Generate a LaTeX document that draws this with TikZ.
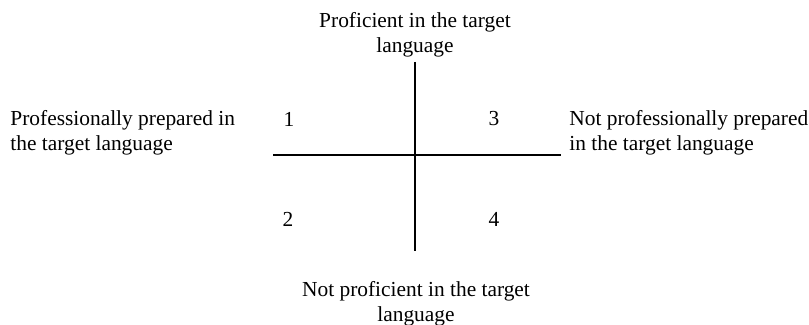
\documentclass[tikz,border=0pt]{standalone}
\usepackage{fontspec}
\setmainfont{Liberation Serif}
\usetikzlibrary{positioning}

\begin{document}
\begin{tikzpicture}[
    x=0.5pt, y=-0.5pt,
    axislabel/.style={inner sep=0pt, font=\fontsize{10.7}{12.5}\selectfont},
    quadnum/.style={inner sep=0pt, font=\fontsize{10.7}{12.5}\selectfont},
    axisline/.style={line width=0.8pt}
  ]
    \useasboundingbox (0,0) rectangle (809,325);

    % Axes
    \coordinate (vtop) at (415,62);
    \coordinate (vbot) at (415,251);
    \coordinate (hleft) at (273,155);
    \coordinate (hright) at (561,155);
    \draw[axisline] (vtop) -- (vbot);
    \draw[axisline] (hleft) -- (hright);

    % Labels
    \node[axislabel, align=center] (proficient) at (415,35) {Proficient in the target\\language};
    \node[axislabel, align=center] (notproficient) at (416,304) {Not proficient in the target\\language};
    \node[axislabel, align=left, anchor=west] (prepared) at (10,133) {Professionally prepared in\\the target language};
    \node[axislabel, align=left, anchor=west] (notprepared) at (569,133) {Not professionally prepared\\in the target language};

    % Quadrants
    \node[quadnum] (q1) at (289,119) {1};
    \node[quadnum] (q3) at (494,119) {3};
    \node[quadnum] (q2) at (288,219) {2};
    \node[quadnum] (q4) at (494,219) {4};
  \end{tikzpicture}
\end{document}
